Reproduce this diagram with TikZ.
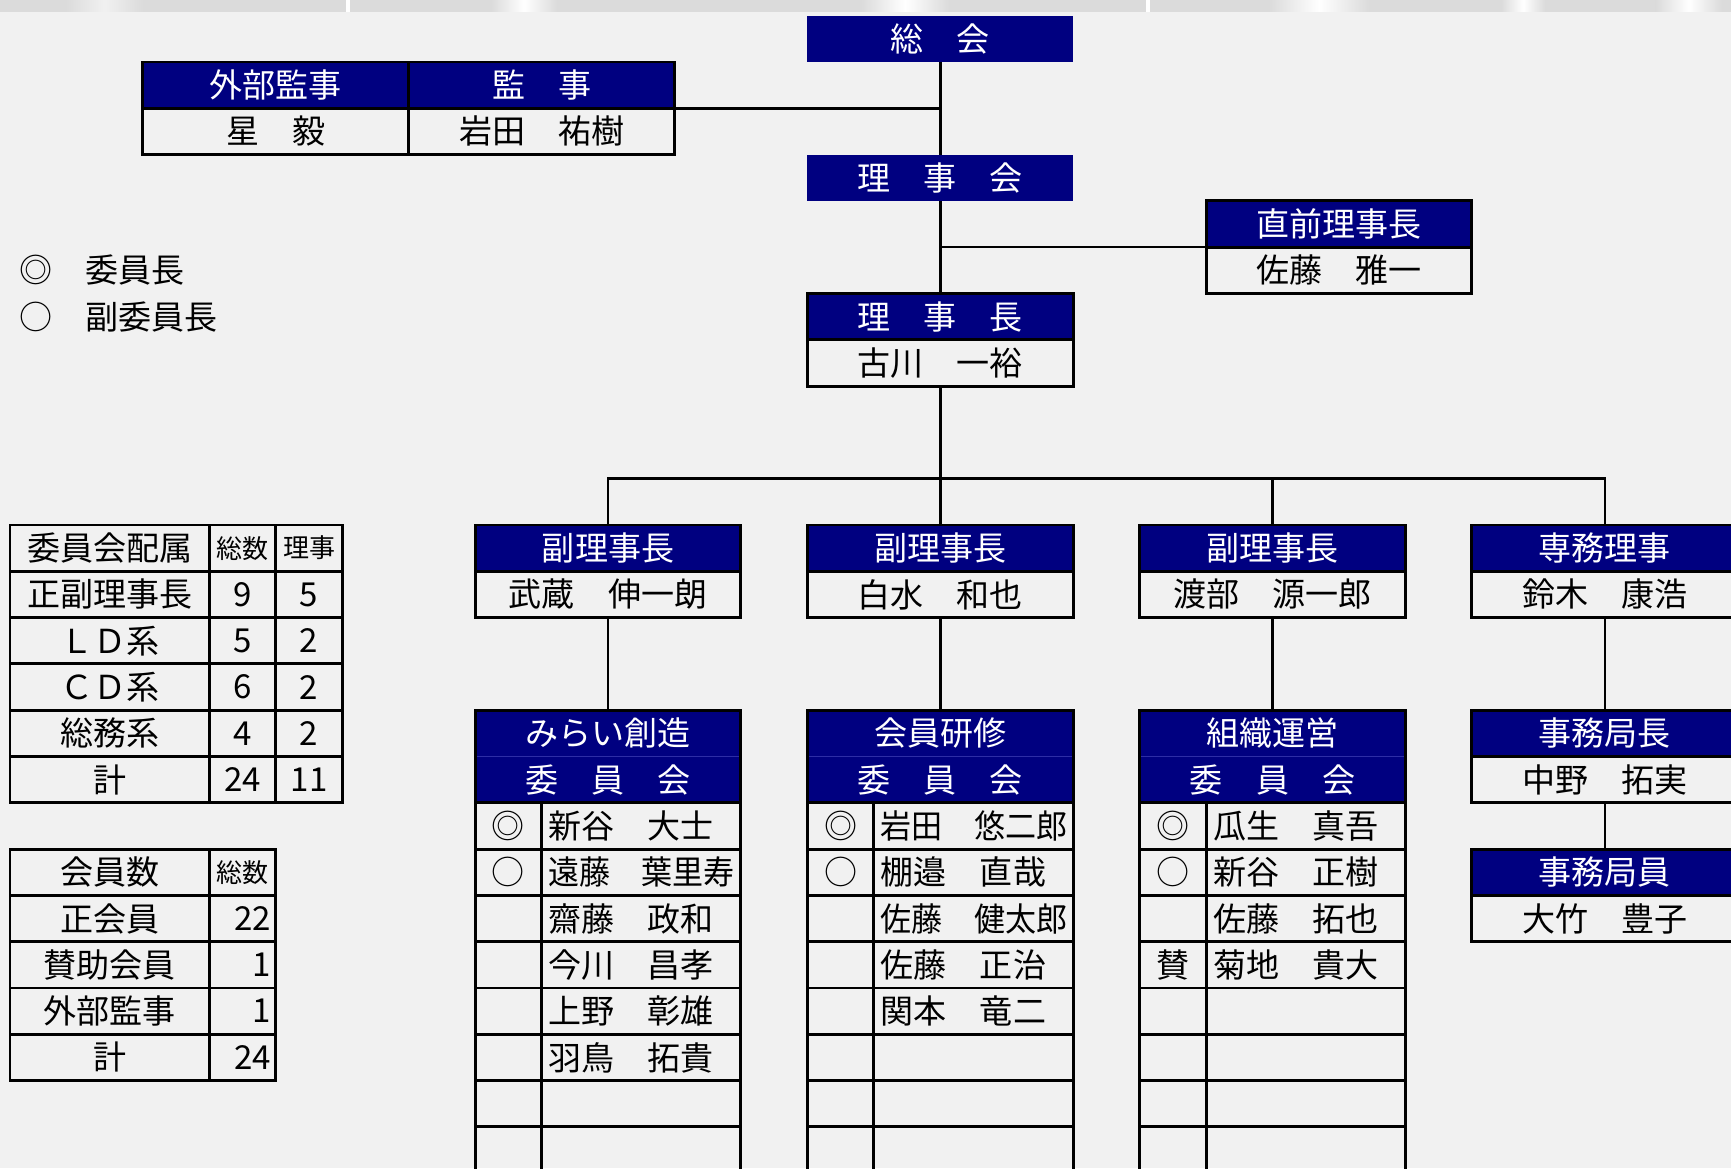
\documentclass[tikz,border=0pt]{standalone}
\usepackage{fontspec}
\setmainfont{Noto Sans CJK JP}
\usetikzlibrary{calc}

\definecolor{kon}{RGB}{0,0,128}
\definecolor{haikei}{RGB}{241,241,241}
\definecolor{obi}{RGB}{219,219,219}
\definecolor{usukon}{RGB}{45,45,165}

\newcommand\honbun{\fontsize{9.4}{11}\selectfont}
\newcommand\chiisai{\fontsize{7.4}{9}\selectfont}

\tikzset{
  waku/.style={draw, line width=0.85pt, inner sep=0pt, outer sep=0pt, minimum height=0.463cm, font=\honbun},
  midashi/.style={waku, fill=kon, text=white},
  haba4/.style={minimum width=2.658cm},
  haba3/.style={minimum width=1.9935cm},
  haba1/.style={minimum width=0.6645cm},
  shimei/.style={waku, text width=1.8535cm, inner xsep=0.07cm, align=left},
  kazu/.style={waku, text width=0.5645cm, inner xsep=0.05cm, align=right},
  tsunagi/.style={line width=0.7pt},
}

% one member row of a committee: (centre x, row y){name}{mark}{person}
\def\iin(#1,#2)#3#4#5{%
  \node[waku, haba1] (#3m) at (#1-1.5,#2) {#4};
  \node[shimei] (#3n) at (#1+0.5,#2) {#5};}

\begin{document}
\begin{tikzpicture}[x=0.6645cm, y=-0.463cm]
			%%%%% START %%%%%
			
			\useasboundingbox (-0.1505,-0.339) rectangle (25.899,24.888);
			\clip (-0.1505,-0.339) rectangle (25.899,24.888);
			\fill[haikei] (-0.1505,-0.339) rectangle (25.899,24.888);
			
			% strip on top
			\fill[obi] (-0.1505,-0.339) rectangle (25.899,-0.09);
			\shade[left color=obi, right color=obi, middle color=white!60!obi] (0.84,-0.339) rectangle (2.0,-0.09);
			\shade[left color=obi, right color=obi, middle color=white] (7.24,-0.339) rectangle (8.23,-0.09);
			\shade[left color=obi, right color=obi, middle color=white] (12.81,-0.339) rectangle (14.13,-0.09);
			\shade[left color=obi, right color=obi, middle color=white] (18.95,-0.339) rectangle (20.45,-0.09);
			\shade[left color=obi, right color=obi, middle color=white] (22.44,-0.339) rectangle (23.1,-0.09);
			\shade[left color=obi, right color=obi, middle color=white] (24.77,-0.339) rectangle (25.76,-0.09);
			\fill[white] (5.06,-0.339) rectangle (5.11,-0.09);
			\fill[white] (17.1,-0.339) rectangle (17.15,-0.09);
			
			% legend
			\node[anchor=west, inner sep=0pt, font=\honbun] (kigou1) at (0.135,5.5) {◎　委員長};
			\node[anchor=west, inner sep=0pt, font=\honbun] (kigou2) at (0.135,6.5) {○　副委員長};
			
			% top
			\node[midashi, haba4, draw=none] (soukai) at (14,0.5) {総　会};
			\node[midashi, haba4] (gaibu) at (4,1.5) {外部監事};
			\node[waku, haba4] (gaibu-n) at (4,2.5) {星　毅};
			\node[midashi, haba4] (kanji) at (8,1.5) {監　事};
			\node[waku, haba4] (kanji-n) at (8,2.5) {岩田　祐樹};
			\node[midashi, haba4, draw=none] (rijikai) at (14,3.5) {理　事　会};
			\node[midashi, haba4] (chokuzen) at (20,4.5) {直前理事長};
			\node[waku, haba4] (chokuzen-n) at (20,5.5) {佐藤　雅一};
			\node[midashi, haba4] (richo) at (14,6.5) {理　事　長};
			\node[waku, haba4] (richo-n) at (14,7.5) {古川　一裕};
			
			\draw[tsunagi] (soukai.south) -- (rijikai.north);
			\draw[tsunagi] (kanji.south east) -- (kanji.south east -| soukai.south);
			\draw[tsunagi] (rijikai.south) -- (richo.north);
			\draw[tsunagi] (chokuzen.south west) -- (chokuzen.south west -| rijikai.south);
			
			% vice chairmen
			\node[midashi, haba4] (fuku1) at (9,11.5) {副理事長};
			\node[waku, haba4] (fuku1-n) at (9,12.5) {武蔵　伸一朗};
			\node[midashi, haba4] (fuku2) at (14,11.5) {副理事長};
			\node[waku, haba4] (fuku2-n) at (14,12.5) {白水　和也};
			\node[midashi, haba4] (fuku3) at (19,11.5) {副理事長};
			\node[waku, haba4] (fuku3-n) at (19,12.5) {渡部　源一郎};
			\node[midashi, haba4] (jimuriji) at (24,11.5) {専務理事};
			\node[waku, haba4] (jimuriji-n) at (24,12.5) {鈴木　康浩};
			
			\coordinate (bus) at (14,10);
			\draw[tsunagi] (richo-n.south) -- (bus);
			\draw[tsunagi] (fuku1.north) |- (bus) -| (jimuriji.north);
			\draw[tsunagi] (fuku2.north) -- (fuku2.north |- bus);
			\draw[tsunagi] (fuku3.north) -- (fuku3.north |- bus);
			
			% committees
			\node[midashi, haba4, draw=none] (mirai) at (9,15.5) {みらい創造};
			\node[midashi, haba4, draw=none] (mirai-i) at (9,16.5) {委　員　会};
			\draw[usukon, line width=0.4pt] (mirai.south west) -- (mirai.south east);
			\draw[line width=0.85pt] (mirai.north west) rectangle (mirai-i.south east);
			
			\node[midashi, haba4, draw=none] (kenshu) at (14,15.5) {会員研修};
			\node[midashi, haba4, draw=none] (kenshu-i) at (14,16.5) {委　員　会};
			\draw[usukon, line width=0.4pt] (kenshu.south west) -- (kenshu.south east);
			\draw[line width=0.85pt] (kenshu.north west) rectangle (kenshu-i.south east);
			
			\node[midashi, haba4, draw=none] (soshiki) at (19,15.5) {組織運営};
			\node[midashi, haba4, draw=none] (soshiki-i) at (19,16.5) {委　員　会};
			\draw[usukon, line width=0.4pt] (soshiki.south west) -- (soshiki.south east);
			\draw[line width=0.85pt] (soshiki.north west) rectangle (soshiki-i.south east);
			
			\iin(9,17.5){mi1}{◎}{新谷　大士}
			\iin(9,18.5){mi2}{○}{\scalebox{0.94}[1]{遠藤　葉里寿}}
			\iin(9,19.5){mi3}{}{齋藤　政和}
			\iin(9,20.5){mi4}{}{今川　昌孝}
			\iin(9,21.5){mi5}{}{上野　彰雄}
			\iin(9,22.5){mi6}{}{羽鳥　拓貴}
			\iin(9,23.5){mi7}{}{}
			\iin(9,24.5){mi8}{}{}
			
			\iin(14,17.5){ke1}{◎}{\scalebox{0.94}[1]{岩田　悠二郎}}
			\iin(14,18.5){ke2}{○}{棚邉　直哉}
			\iin(14,19.5){ke3}{}{\scalebox{0.94}[1]{佐藤　健太郎}}
			\iin(14,20.5){ke4}{}{佐藤　正治}
			\iin(14,21.5){ke5}{}{関本　竜二}
			\iin(14,22.5){ke6}{}{}
			\iin(14,23.5){ke7}{}{}
			\iin(14,24.5){ke8}{}{}
			
			\iin(19,17.5){so1}{◎}{瓜生　真吾}
			\iin(19,18.5){so2}{○}{新谷　正樹}
			\iin(19,19.5){so3}{}{佐藤　拓也}
			\iin(19,20.5){so4}{賛}{菊地　貴大}
			\iin(19,21.5){so5}{}{}
			\iin(19,22.5){so6}{}{}
			\iin(19,23.5){so7}{}{}
			\iin(19,24.5){so8}{}{}
			
			% office
			\node[midashi, haba4] (kyokucho) at (24,15.5) {事務局長};
			\node[waku, haba4] (kyokucho-n) at (24,16.5) {中野　拓実};
			\node[midashi, haba4] (kyokuin) at (24,18.5) {事務局員};
			\node[waku, haba4] (kyokuin-n) at (24,19.5) {大竹　豊子};
			
			\draw[tsunagi] (fuku1-n.south) -- (mirai.north);
			\draw[tsunagi] (fuku2-n.south) -- (kenshu.north);
			\draw[tsunagi] (fuku3-n.south) -- (soshiki.north);
			\draw[tsunagi] (jimuriji-n.south) -- (kyokucho.north);
			\draw[tsunagi] (kyokucho-n.south) -- (kyokuin.north);
			
			% committee table
			\node[waku, haba3] (haizoku) at (1.5,11.5) {委員会配属};
			\node[waku, haba1, font=\chiisai] (haizoku-s) at (3.5,11.5) {総数};
			\node[waku, haba1, font=\chiisai] (haizoku-r) at (4.5,11.5) {理事};
			\node[waku, haba3] (seifuku) at (1.5,12.5) {正副理事長};
			\node[waku, haba1] (seifuku-s) at (3.5,12.5) {9};
			\node[waku, haba1] (seifuku-r) at (4.5,12.5) {5};
			\node[waku, haba3] (ld) at (1.5,13.5) {ＬＤ系};
			\node[waku, haba1] (ld-s) at (3.5,13.5) {5};
			\node[waku, haba1] (ld-r) at (4.5,13.5) {2};
			\node[waku, haba3] (cd) at (1.5,14.5) {ＣＤ系};
			\node[waku, haba1] (cd-s) at (3.5,14.5) {6};
			\node[waku, haba1] (cd-r) at (4.5,14.5) {2};
			\node[waku, haba3] (somu) at (1.5,15.5) {総務系};
			\node[waku, haba1] (somu-s) at (3.5,15.5) {4};
			\node[waku, haba1] (somu-r) at (4.5,15.5) {2};
			\node[waku, haba3] (kei1) at (1.5,16.5) {計};
			\node[waku, haba1] (kei1-s) at (3.5,16.5) {24};
			\node[waku, haba1] (kei1-r) at (4.5,16.5) {11};
			
			% member table
			\node[waku, haba3] (kaiin) at (1.5,18.5) {会員数};
			\node[waku, haba1, font=\chiisai] (kaiin-s) at (3.5,18.5) {総数};
			\node[waku, haba3] (sei) at (1.5,19.5) {正会員};
			\node[kazu] (sei-s) at (3.5,19.5) {22};
			\node[waku, haba3] (sanjo) at (1.5,20.5) {賛助会員};
			\node[kazu] (sanjo-s) at (3.5,20.5) {1};
			\node[waku, haba3] (gaibu2) at (1.5,21.5) {外部監事};
			\node[kazu] (gaibu2-s) at (3.5,21.5) {1};
			\node[waku, haba3] (kei2) at (1.5,22.5) {計};
			\node[kazu] (kei2-s) at (3.5,22.5) {24};
			
			%%%%% END %%%%%
\end{tikzpicture}
\end{document}
